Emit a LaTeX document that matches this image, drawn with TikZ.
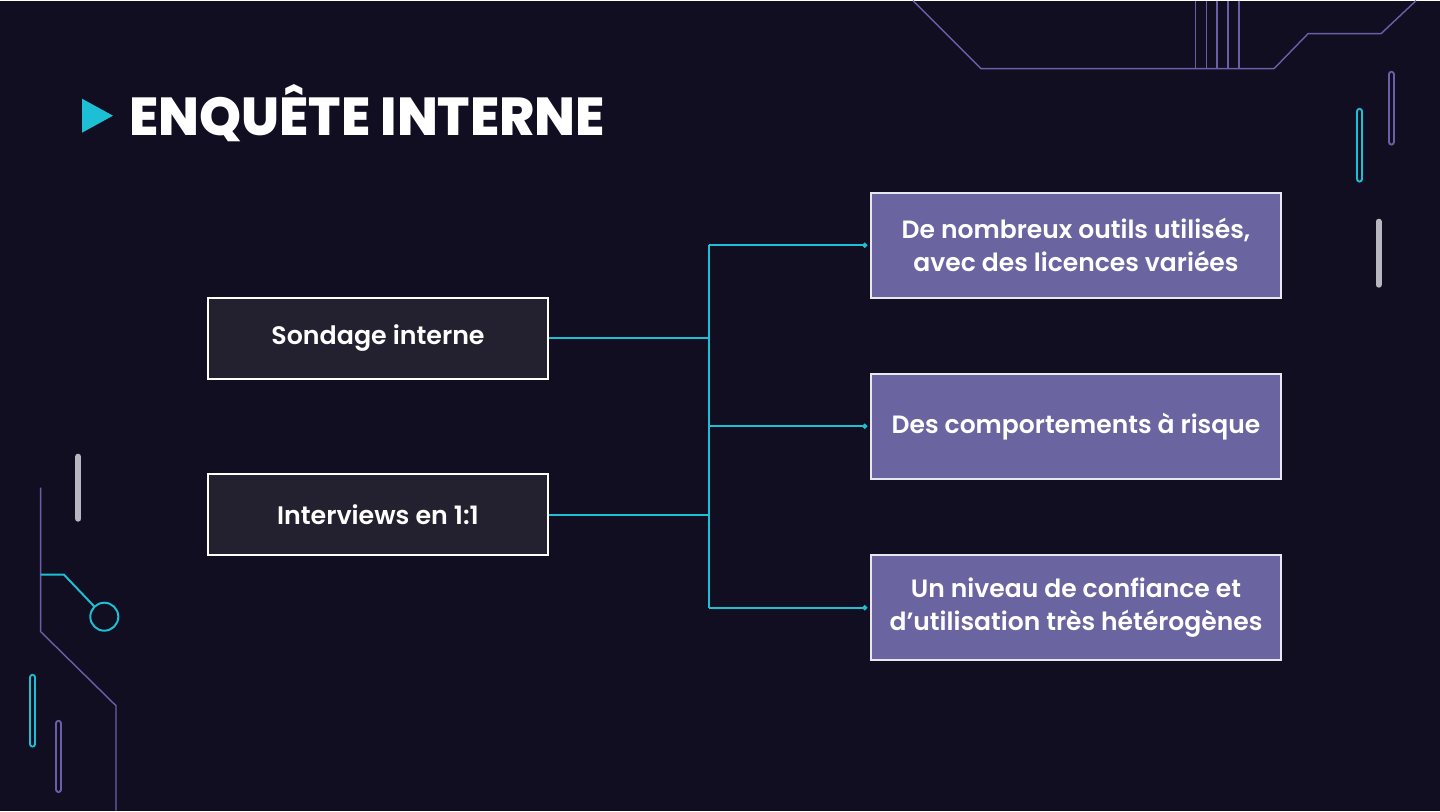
\documentclass[tikz,border=0pt]{standalone}
\usepackage{fontspec}
\setmainfont{Poppins}
\newfontfamily\titlefont{Poppins}[UprightFont=* ExtraBold]
\newfontfamily\boxfont{Poppins}[UprightFont=* SemiBold]
\usetikzlibrary{arrows.meta,positioning}
\definecolor{bgcol}{HTML}{110E22}
\definecolor{boxdark}{HTML}{23212F}
\definecolor{boxpurple}{HTML}{6A64A0}
\definecolor{cyanc}{HTML}{1CBFD4}
\definecolor{violetc}{HTML}{6C5FA8}
\definecolor{greyc}{HTML}{B8B6C0}
\tikzset{
  srcbox/.style={draw=white, line width=1.3pt, fill=boxdark, minimum width=8.5cm,
    minimum height=2.025cm, text=white, font=\boxfont\fontsize{18}{23.5}\selectfont},
  resbox/.style={draw=white!85!boxpurple, line width=1.3pt, fill=boxpurple, minimum width=10.25cm,
    minimum height=2.625cm, text=white, align=center, font=\boxfont\fontsize{17.8}{23.5}\selectfont},
  link/.style={draw=cyanc, line width=1.4pt},
  deco/.style={draw=violetc, line width=1pt},
  pill/.style={line width=4.8pt, line cap=round, postaction={draw=bgcol, line width=2.2pt}},
  bar/.style={draw=greyc, line width=4.3pt, line cap=round}
}
\begin{document}
\begin{tikzpicture}[x=0.025cm, y=-0.025cm, >=latex]
	\fill[bgcol] (0,0) rectangle (1440,810);
	% decorations top right
	\draw[deco] (913,0) -- (981,68) -- (1274,68) -- (1308,33) -- (1381,33) -- (1416,0);
	\foreach \x in {1195.5,1206.5,1217,1228,1239}
		\draw[deco] (\x,0) -- (\x,68);
	\draw[pill, draw=cyanc] (1359.7,110.5) -- (1359.7,178.5);
	\draw[pill, draw=violetc] (1391.2,73.5) -- (1391.2,141.5);
	\draw[bar] (1378.6,221) -- (1378.6,284);
	% decorations left
	\draw[deco] (40.7,487) -- (40.7,631) -- (116,705) -- (116,810);
	\draw[cyanc, line width=1.4pt] (40.7,574) -- (64,574) -- (94.5,606);
	\draw[cyanc, line width=1.4pt] (104.3,616) circle [radius=14];
	\draw[bar] (78.3,456) -- (78.3,518);
	\draw[pill, draw=cyanc] (32.7,676.5) -- (32.7,743.5);
	\draw[pill, draw=violetc] (58.7,722.5) -- (58.7,789);
	% title
	\fill[cyanc] (82,98) -- (113,115) -- (82,132) -- cycle;
	\node[anchor=base west, inner sep=0pt, text=white, font=\titlefont\fontsize{38}{40}\selectfont]
		(title) at (129,135) {ENQUÊTE INTERNE};
	% boxes
	\node[srcbox] (sondage) at (378,337.5) {Sondage interne};
	\node[srcbox] (interviews) at (378,514) {Interviews en 1:1};
	\node[resbox] (outils) at (1076,244.5) {De nombreux outils utilisés,\\avec des licences variées};
	\node[resbox] (risque) at (1076,425.5) {Des comportements à risque};
	\node[resbox] (confiance) at (1076,607) {Un niveau de confiance et\\d’utilisation très hétérogènes};
	% connectors
	\coordinate (bus) at (709,0);
	\draw[link] (sondage.east) -- (sondage.east -| bus);
	\draw[link] (interviews.east) -- (interviews.east -| bus);
	\draw[link] (outils.west -| bus) -- (confiance.west -| bus);
	\foreach \n in {outils,risque,confiance}
		\draw[link, -{Circle[length=3.5pt]}, shorten >=2pt] (\n.west -| bus) -- (\n.west);
\end{tikzpicture}
\end{document}
